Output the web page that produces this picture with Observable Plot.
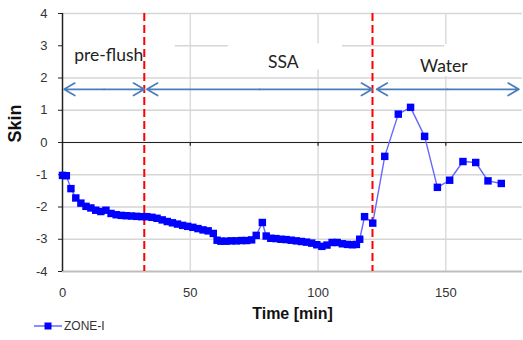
<!DOCTYPE html>
<html>
<head>
<meta charset="utf-8">
<script src="https://cdn.jsdelivr.net/npm/d3@7"></script>
<script src="https://cdn.jsdelivr.net/npm/@observablehq/plot@0.6"></script>
<style>
  html, body { margin: 0; padding: 0; background: #fff; }
  body { position: relative; width: 523px; height: 340px; overflow: hidden; }
  #legend { position: absolute; left: 0; top: 317px; height: 18px; display: flex; align-items: center;
            font-family: "Liberation Sans", Arial, sans-serif; font-size: 12px; color: #333; }
</style>
</head>
<body>
<div id="chart"></div>
<div id="legend"></div>
<script>
// Data
const times = [0, 1.5, 3.3, 5.2, 7.2, 9.2, 11.1, 13, 15, 17, 19, 21, 23, 25, 27, 29, 31, 33, 35, 37,
  39, 41, 43, 45, 47, 49, 51, 53, 55, 57, 59, 60.5, 62, 64, 66, 68, 70, 72, 74, 75.8,
  78.2, 79.7, 81.5, 83.5, 85.5, 87.5, 89.5, 91.5, 93.5, 95.5, 97.5, 99.5, 101.5, 103.5, 105.5, 107.5, 109.5, 111.5, 113.5, 115,
  116.3, 118.2, 121.4, 126.1, 131.4, 136.2, 141.7, 146.7, 151.5, 156.7, 161.7, 166.5, 171.7];
const skin = [-1.02, -1.03, -1.43, -1.72, -1.88, -1.98, -2.03, -2.10, -2.14, -2.10, -2.20, -2.24, -2.26, -2.27, -2.28, -2.29, -2.30, -2.30, -2.32, -2.35,
  -2.40, -2.45, -2.49, -2.53, -2.57, -2.60, -2.63, -2.67, -2.71, -2.74, -2.82, -3.03, -3.06, -3.06, -3.05, -3.05, -3.04, -3.04, -3.02, -2.88,
  -2.48, -2.90, -2.97, -2.98, -3.00, -3.01, -3.03, -3.05, -3.07, -3.09, -3.12, -3.17, -3.22, -3.18, -3.10, -3.10, -3.14, -3.16, -3.17, -3.16,
  -3.00, -2.30, -2.50, -0.43, 0.88, 1.09, 0.19, -1.39, -1.17, -0.59, -0.62, -1.19, -1.27];
const seriesName = "ZONE-I";

const xTicks = [0, 50, 100, 150];
const yTicks = [-4, -3, -2, -1, 0, 1, 2, 3, 4];

// Phase annotations
const phaseNames = ["pre-flush", "SSA", "Water"];
const phaseLabelX = [18.1, 86.4, 149.2];
const phaseLabelY = [2.71, 2.47, 2.37];
const phaseStart = [0.6, 33.0, 122.9];
const phaseEnd = [32.0, 121.2, 178.6];
const arrowY = 1.65;
const boundaries = [32.0, 121.3];
// white label boxes (as in the original spreadsheet chart)
const boxX1 = [0, 64.9, 149.6];
const boxX2 = [44.1, 109.6, 180];
const boxY1 = [2.3, 2.25, 2.05];
const boxY2 = [3.1, 3.06, 3.04];

const data = times.map((t, i) => ({t, v: skin[i]}));
const arrows = phaseStart.map((s, i) => ({s, e: phaseEnd[i], m: (s + phaseEnd[i]) / 2}));
const labels = phaseNames.map((n, i) => ({n, x: phaseLabelX[i], y: phaseLabelY[i]}));
const boxes = boxX1.map((x1, i) => ({x1, x2: boxX2[i], y1: boxY1[i], y2: boxY2[i]}));

const arrowColor = "#4a7ebb";
const plot = Plot.plot({
  width: 523,
  height: 322,
  marginLeft: 62,
  marginRight: 1,
  marginTop: 13,
  marginBottom: 51,
  x: {domain: [0, 180]},
  y: {domain: [-4, 4]},
  style: {fontFamily: "'Liberation Sans', Arial, sans-serif", fontSize: "13px", color: "#333", background: "#fff"},
  marks: [
    Plot.ruleY(yTicks.filter(d => d > -4), {stroke: "#d6d6d6", strokeWidth: 1.3}),
    Plot.ruleX(xTicks.filter(d => d > 0), {stroke: "#d6d6d6", strokeWidth: 1.3}),
    Plot.ruleY([-4], {stroke: "#bdbdbd", strokeWidth: 2}),
    Plot.rect(boxes, {x1: "x1", x2: "x2", y1: "y1", y2: "y2", fill: "#fff"}),
    Plot.ruleY([0], {stroke: "#222", strokeWidth: 1.2}),
    Plot.ruleX(xTicks.filter(d => d > 0), {y1: 0, y2: -0.12, stroke: "#222", strokeWidth: 1.2}),
    Plot.ruleX([0], {stroke: "#222", strokeWidth: 1.5}),
    Plot.axisY({ticks: yTicks, tickSize: 4, tickPadding: 11, tickFormat: d => String(d).replace("−", "-"), label: null, stroke: "#222"}),
    Plot.axisX({ticks: xTicks, tickSize: 0, tickPadding: 16, label: null}),
    Plot.ruleX(boundaries, {stroke: "#ff0000", strokeWidth: 2, strokeDasharray: "8,4"}),
    Plot.arrow(arrows, {x1: "m", x2: "e", y1: arrowY, y2: arrowY, stroke: arrowColor, strokeWidth: 1.7, headLength: 11, headAngle: 60}),
    Plot.arrow(arrows, {x1: "m", x2: "s", y1: arrowY, y2: arrowY, stroke: arrowColor, strokeWidth: 1.7, headLength: 11, headAngle: 60}),
    Plot.line(data, {x: "t", y: "v", stroke: "#6666ff", strokeWidth: 1.4}),
    Plot.dot(data, {x: "t", y: "v", symbol: "square", r: 4.2, fill: "#0000ff", stroke: "none"}),
    Plot.text(labels, {x: "x", y: "y", text: "n", fontFamily: "Lato, 'Open Sans', sans-serif", fontSize: 17.5, fill: "#222"}),
    Plot.text(["Time [min]"], {frameAnchor: "bottom", dy: 42, lineAnchor: "middle", fontWeight: "bold", fontSize: 16, fill: "#111"}),
    Plot.text(["Skin"], {frameAnchor: "left", dx: -47, rotate: -90, lineAnchor: "middle", fontWeight: "bold", fontSize: 18, fill: "#111"})
  ]
});
document.getElementById("chart").appendChild(plot);

document.getElementById("legend").innerHTML =
  `<svg width="64" height="18" style="display:block"><line x1="34" x2="62" y1="9" y2="9" stroke="#6666ff" stroke-width="1.5"/>` +
  `<rect x="44.5" y="5.5" width="7" height="7" fill="#0000ff"/></svg><span style="margin-left:0px">${seriesName}</span>`;
</script>
</body>
</html>
